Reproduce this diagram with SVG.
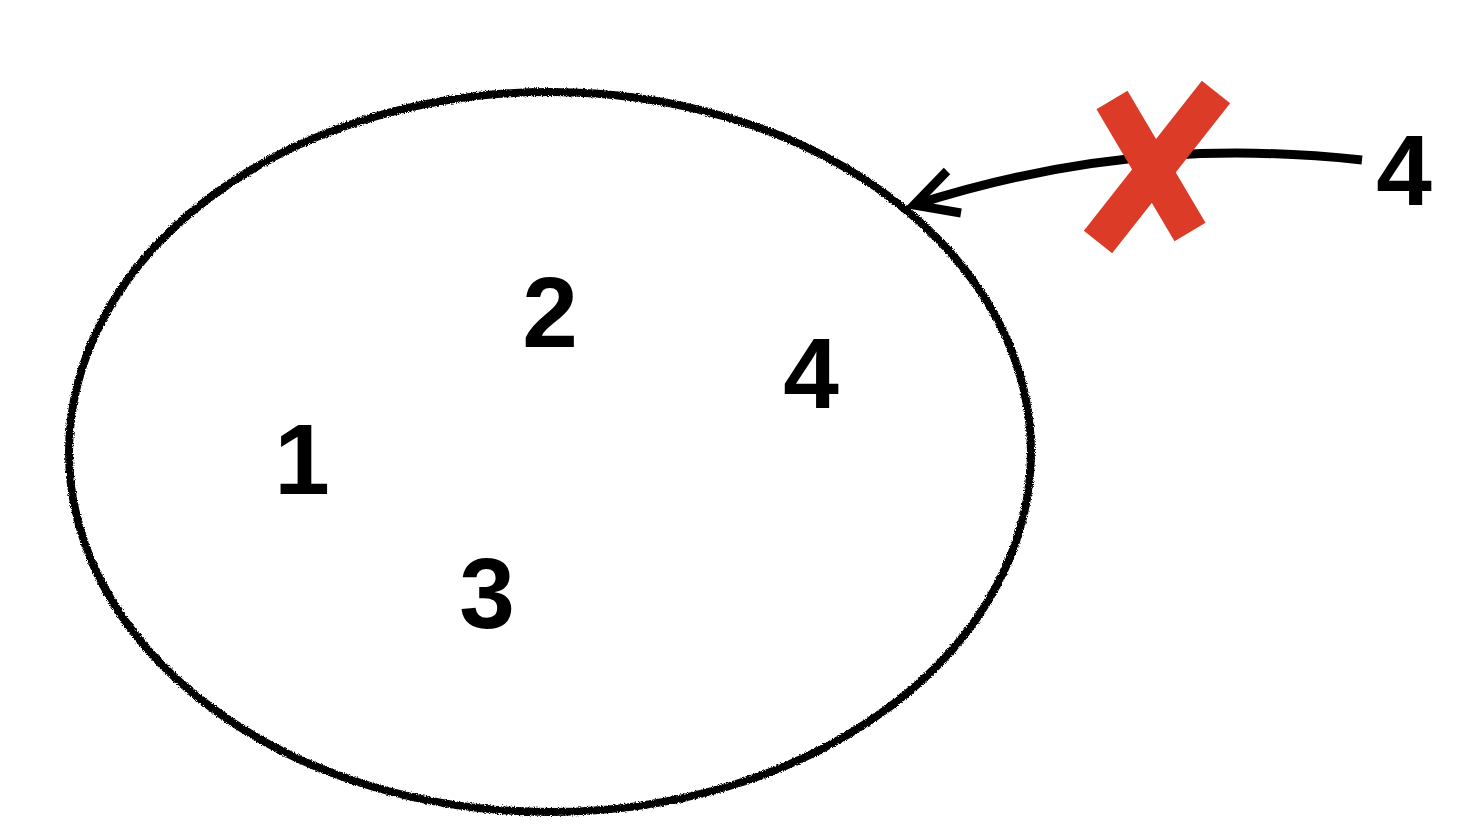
<svg xmlns="http://www.w3.org/2000/svg" width="1468" height="832" viewBox="0 0 1468 832">
<style>
.num{font-family:"Liberation Sans",Arial,sans-serif;font-weight:bold;font-size:100px;fill:#000;text-anchor:middle}
.conn{fill:none;stroke:#000;stroke-width:9;stroke-linecap:butt;stroke-linejoin:miter}
.cross{stroke:#DB3B27;stroke-width:36;stroke-linecap:butt}
</style>
<defs>
<filter id="rough" x="-5%" y="-5%" width="110%" height="110%">
<feTurbulence type="fractalNoise" baseFrequency="0.9" numOctaves="2" seed="3" result="n"/>
<feDisplacementMap in="SourceGraphic" in2="n" scale="4" xChannelSelector="R" yChannelSelector="G"/>
</filter>
</defs>
<rect width="1468" height="832" fill="#fff"/>
<g id="set">
<ellipse cx="550" cy="452" rx="481" ry="360" fill="none" stroke="#000" stroke-width="8" filter="url(#rough)"/>
</g>
<g id="n1"><text class="num" x="302" y="494">1</text></g>
<g id="n2"><text class="num" x="550" y="347">2</text></g>
<g id="n3"><text class="num" x="487" y="628">3</text></g>
<g id="n4in"><text class="num" x="811" y="408">4</text></g>
<g id="n4out"><text class="num" x="1404" y="205">4</text></g>
<g id="connectors">
<path class="conn" d="M1362,160 C1250,148 1100,145 914,205"/>
<path class="conn" d="M947,171 L914,205 L961,213"/>
</g>
<g id="cross">
<line class="cross" x1="1112" y1="100" x2="1190" y2="232"/>
<line class="cross" x1="1216" y1="92" x2="1098" y2="242"/>
</g>
</svg>
